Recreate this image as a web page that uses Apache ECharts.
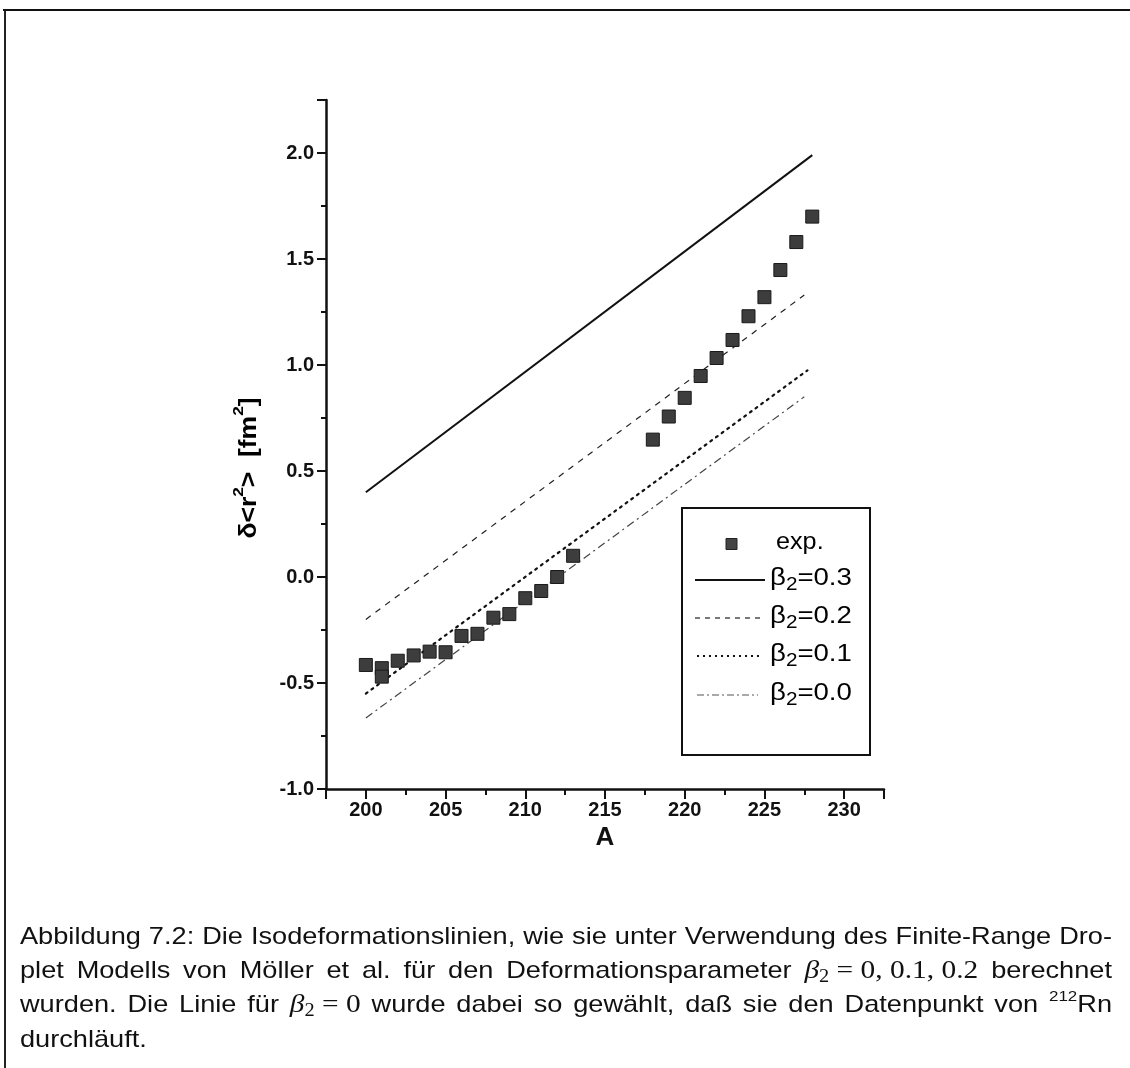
<!DOCTYPE html>
<html>
<head>
<meta charset="utf-8">
<script src="https://cdn.jsdelivr.net/npm/echarts@6/dist/echarts.min.js"></script>
<style>
  html, body { margin: 0; padding: 0; background: #fff; }
  #chart { width: 1130px; height: 1068px; }
</style>
</head>
<body>
<div id="chart"></div>
<script>
// Measured mean-square charge radius changes δ<r²> (fm²) versus mass number A
// (A = 201 appears twice: two measurements)
const expA = [200, 201, 201, 202, 203, 204, 205, 206, 207, 208, 209, 210, 211, 212, 213,
              218, 219, 220, 221, 222, 223, 224, 225, 226, 227, 228];
const expV = [-0.415, -0.43, -0.47, -0.395, -0.37, -0.352, -0.355, -0.278, -0.268, -0.192, -0.175,
              -0.10, -0.066, 0.0, 0.10, 0.648, 0.757, 0.845, 0.948, 1.033, 1.118, 1.23, 1.32,
              1.448, 1.58, 1.70];

// Isodeformation lines (Finite-Range Droplet Model), start and end points
const beta03A = [200, 228];   const beta03V = [0.40, 1.99];
const beta02A = [200, 227.5]; const beta02V = [-0.20, 1.33];
const beta01A = [200, 227.7]; const beta01V = [-0.55, 0.975];
const beta00A = [200, 227.5]; const beta00V = [-0.665, 0.85];

// Axis ranges and labelled ticks
const xMin = 197.5, xMax = 232.5, xStep = 2.5;
const yMin = -1.0, yMax = 2.25, yStep = 0.25;
const xTickLabels = [200, 205, 210, 215, 220, 225, 230];
const yTickLabels = [-1.0, -0.5, 0.0, 0.5, 1.0, 1.5, 2.0];

const zip = (a, b) => a.map((v, i) => [v, b[i]]);
const isIn = (arr, v) => arr.some(t => Math.abs(t - v) < 1e-6);

const SANS = '"Liberation Sans", Arial, Helvetica, sans-serif';
const SERIF = '"Liberation Serif", "Times New Roman", serif';

const chart = echarts.init(document.getElementById('chart'), null, { renderer: 'canvas' });

// ---------- caption: justified lines, placed word by word ----------
const measureCtx = document.createElement('canvas').getContext('2d');
function textWidth(str, font) { measureCtx.font = font; return measureCtx.measureText(str).width; }

const pieceStyle = {
  n:    { font: '24px ' + SANS, dy: 0 },
  mi:   { font: 'italic 26px ' + SERIF, dy: 0 },
  mr:   { font: '26px ' + SERIF, dy: 0 },
  msub: { font: '18px ' + SERIF, dy: 6 },
  tsup: { font: '15px ' + SANS, dy: -9 }
};

const captionLines = [
  { justify: true, words: ['Abbildung', '7.2:', 'Die', 'Isodeformationslinien,', 'wie', 'sie', 'unter',
      'Verwendung', 'des', 'Finite-Range', 'Dro-'] },
  { justify: true, words: ['plet', 'Modells', 'von', 'Möller', 'et', 'al.', 'für', 'den',
      'Deformationsparameter', [['β', 'mi'], ['2', 'msub'], [' = 0, 0.1, 0.2', 'mr']], 'berechnet'] },
  { justify: true, words: ['wurden.', 'Die', 'Linie', 'für', [['β', 'mi'], ['2', 'msub'], [' = 0', 'mr']],
      'wurde', 'dabei', 'so', 'gewählt,', 'daß', 'sie', 'den', 'Datenpunkt', 'von', [['212', 'tsup'], ['Rn', 'n']]] },
  { justify: false, words: ['durchläuft.'] }
];
const capLeft = 20, capRight = 1112, capTop = 937, capLineGap = 34.3, capWordGap = 8;

const capWords = captionLines.map(line => line.words.map(w => typeof w === 'string' ? [[w, 'n']] : w));
const capWidths = capWords.map(ws => ws.map(ps => ps.reduce((s, p) => s + textWidth(p[0], pieceStyle[p[1]].font), 0)));
// horizontal stretch of the caption glyphs, so the first line fills its width with normal word gaps
const capScale = (capRight - capLeft - capWordGap * (capWords[0].length - 1)) /
                 capWidths[0].reduce((a, b) => a + b, 0);

const captionEls = [];
captionLines.forEach((line, li) => {
  const words = capWords[li];
  const widths = capWidths[li].map(w => w * capScale);
  const total = widths.reduce((a, b) => a + b, 0);
  const gap = line.justify && words.length > 1
    ? (capRight - capLeft - total) / (words.length - 1)
    : capWordGap;
  let x = capLeft;
  const y = capTop + li * capLineGap;
  words.forEach((ps, wi) => {
    let px = x;
    ps.forEach(p => {
      const st = pieceStyle[p[1]];
      captionEls.push({
        type: 'text', silent: true, x: px, y: y + st.dy, scaleX: capScale,
        style: { text: p[0], x: 0, y: 0, font: st.font, fill: '#111',
                 align: 'left', verticalAlign: 'middle', textAlign: 'left', textVerticalAlign: 'middle' }
      });
      px += textWidth(p[0], st.font) * capScale;
    });
    x += widths[wi] + gap;
  });
});

// ---------- legend box ----------
const lg = { left: 682, top: 508, right: 870, bottom: 755 };
const legendRows = [
  { y: 544, label: 'exp.', kind: 'square' },
  { y: 580, label: '0.3', kind: 'line', dash: null, width: 2, color: '#111', x0: 695, x1: 765 },
  { y: 618, label: '0.2', kind: 'line', dash: [5, 5], width: 1.2, color: '#222', x0: 695, x1: 765 },
  { y: 656, label: '0.1', kind: 'line', dash: [2, 4], width: 2, color: '#111', x0: 697, x1: 762 },
  { y: 695, label: '0.0', kind: 'line', dash: [7, 3, 2, 3], width: 1.2, color: '#555', x0: 697, x1: 758 }
];
const legendRich = {
  m: { fontSize: 24, fontFamily: SANS, color: '#111', lineHeight: 28, verticalAlign: 'top' },
  s: { fontSize: 18, fontFamily: SANS, color: '#111', lineHeight: 12, verticalAlign: 'bottom' }
};
const legendEls = [{
  type: 'rect', silent: true,
  shape: { x: lg.left, y: lg.top, width: lg.right - lg.left, height: lg.bottom - lg.top },
  style: { fill: null, stroke: '#111', lineWidth: 2 }
}];
legendRows.forEach(r => {
  if (r.kind === 'square') {
    legendEls.push({ type: 'rect', silent: true, shape: { x: 726, y: r.y - 5.5, width: 11, height: 11 },
      style: { fill: '#444', stroke: '#222', lineWidth: 1 } });
    legendEls.push({ type: 'text', silent: true, x: 776, y: r.y, scaleX: 1.05,
      style: { text: '{m|' + r.label + '}', rich: legendRich, x: 0, y: 0,
               align: 'left', verticalAlign: 'middle', textAlign: 'left', textVerticalAlign: 'middle' } });
  } else {
    legendEls.push({ type: 'line', silent: true, shape: { x1: r.x0, y1: r.y, x2: r.x1, y2: r.y },
      style: { stroke: r.color, lineWidth: r.width, lineDash: r.dash } });
    legendEls.push({ type: 'text', silent: true, x: 770, y: r.y, scaleX: 1.15,
      style: { text: '{m|β}{s|2}{m|=' + r.label + '}', rich: legendRich, x: 0, y: 0,
               align: 'left', verticalAlign: 'middle', textAlign: 'left', textVerticalAlign: 'middle' } });
  }
});

// ---------- y-axis title, rotated ----------
const yTitleEl = {
  type: 'text', silent: true, x: 246, y: 468, rotation: Math.PI / 2, scaleX: 1.15,
  style: {
    text: '{b|δ<r}{s|2}{b|>  [fm}{s|2}{b|]}',
    rich: {
      b: { fontFamily: SANS, fontWeight: 'bold', fontSize: 23, color: '#111', lineHeight: 30, verticalAlign: 'bottom' },
      s: { fontFamily: SANS, fontWeight: 'bold', fontSize: 15, color: '#111', lineHeight: 18, verticalAlign: 'top' }
    },
    x: 0, y: 0, align: 'center', verticalAlign: 'middle', textAlign: 'center', textVerticalAlign: 'middle'
  }
};

// ---------- page frame ----------
const frameEls = [
  { type: 'line', silent: true, shape: { x1: 3, y1: 10, x2: 1130, y2: 10 }, style: { stroke: '#111', lineWidth: 2 } },
  { type: 'line', silent: true, shape: { x1: 5, y1: 10, x2: 5, y2: 1068 }, style: { stroke: '#222', lineWidth: 2 } }
];

const axisLabelStyle = { fontFamily: SANS, fontWeight: 'bold', fontSize: 20, color: '#111' };

const option = {
  animation: false,
  backgroundColor: '#fff',
  grid: { left: 326, top: 100, width: 558, height: 689, containLabel: false },
  xAxis: [
    {
      type: 'value', min: xMin, max: xMax, interval: xStep,
      name: 'A', nameLocation: 'middle', nameGap: 30,
      nameTextStyle: { fontFamily: SANS, fontWeight: 'bold', fontSize: 26, color: '#111' },
      axisLine: { show: true, onZero: false, lineStyle: { color: '#111', width: 2.5 } },
      axisTick: { show: true, inside: false, length: 6, lineStyle: { color: '#111', width: 2 } },
      axisLabel: Object.assign({ margin: 11, formatter: v => isIn(xTickLabels, v) ? String(Math.round(v)) : '' }, axisLabelStyle),
      splitLine: { show: false }
    },
    {
      type: 'value', min: xMin, max: xMax, position: 'bottom', offset: 0,
      axisLine: { show: false, onZero: false },
      axisTick: { show: true, inside: false, length: 10, customValues: xTickLabels.concat([xMin, xMax]),
                  lineStyle: { color: '#111', width: 2 } },
      axisLabel: { show: false },
      splitLine: { show: false }
    }
  ],
  yAxis: [
    {
      type: 'value', min: yMin, max: yMax, interval: yStep,
      axisLine: { show: true, onZero: false, lineStyle: { color: '#111', width: 2.5 } },
      axisTick: { show: true, inside: false, length: 5, lineStyle: { color: '#111', width: 2 } },
      axisLabel: Object.assign({ margin: 12, formatter: v => isIn(yTickLabels, v) ? v.toFixed(1) : '' }, axisLabelStyle),
      splitLine: { show: false }
    },
    {
      type: 'value', min: yMin, max: yMax, position: 'left', offset: 0,
      axisLine: { show: false, onZero: false },
      axisTick: { show: true, inside: false, length: 9, customValues: yTickLabels.concat([yMax]),
                  lineStyle: { color: '#111', width: 2 } },
      axisLabel: { show: false },
      splitLine: { show: false }
    }
  ],
  series: [
    {
      name: 'β2=0.3', type: 'line', data: zip(beta03A, beta03V), symbol: 'none',
      lineStyle: { color: '#111', width: 2, type: 'solid' }, z: 2
    },
    {
      name: 'β2=0.2', type: 'line', data: zip(beta02A, beta02V), symbol: 'none',
      lineStyle: { color: '#222', width: 1.2, type: [6, 6] }, z: 2
    },
    {
      name: 'β2=0.1', type: 'line', data: zip(beta01A, beta01V), symbol: 'none',
      lineStyle: { color: '#111', width: 2.2, type: [2, 5], cap: 'round' }, z: 2
    },
    {
      name: 'β2=0.0', type: 'line', data: zip(beta00A, beta00V), symbol: 'none',
      lineStyle: { color: '#444', width: 1.2, type: [8, 4, 2, 4] }, z: 2
    },
    {
      name: 'exp.', type: 'scatter', data: zip(expA, expV), symbol: 'rect', symbolSize: 13,
      itemStyle: { color: '#3d3d3d', borderColor: '#1a1a1a', borderWidth: 1, opacity: 1 }, z: 3
    }
  ],
  graphic: { elements: frameEls.concat([yTitleEl], legendEls, captionEls) }
};

chart.setOption(option);
</script>
</body>
</html>
